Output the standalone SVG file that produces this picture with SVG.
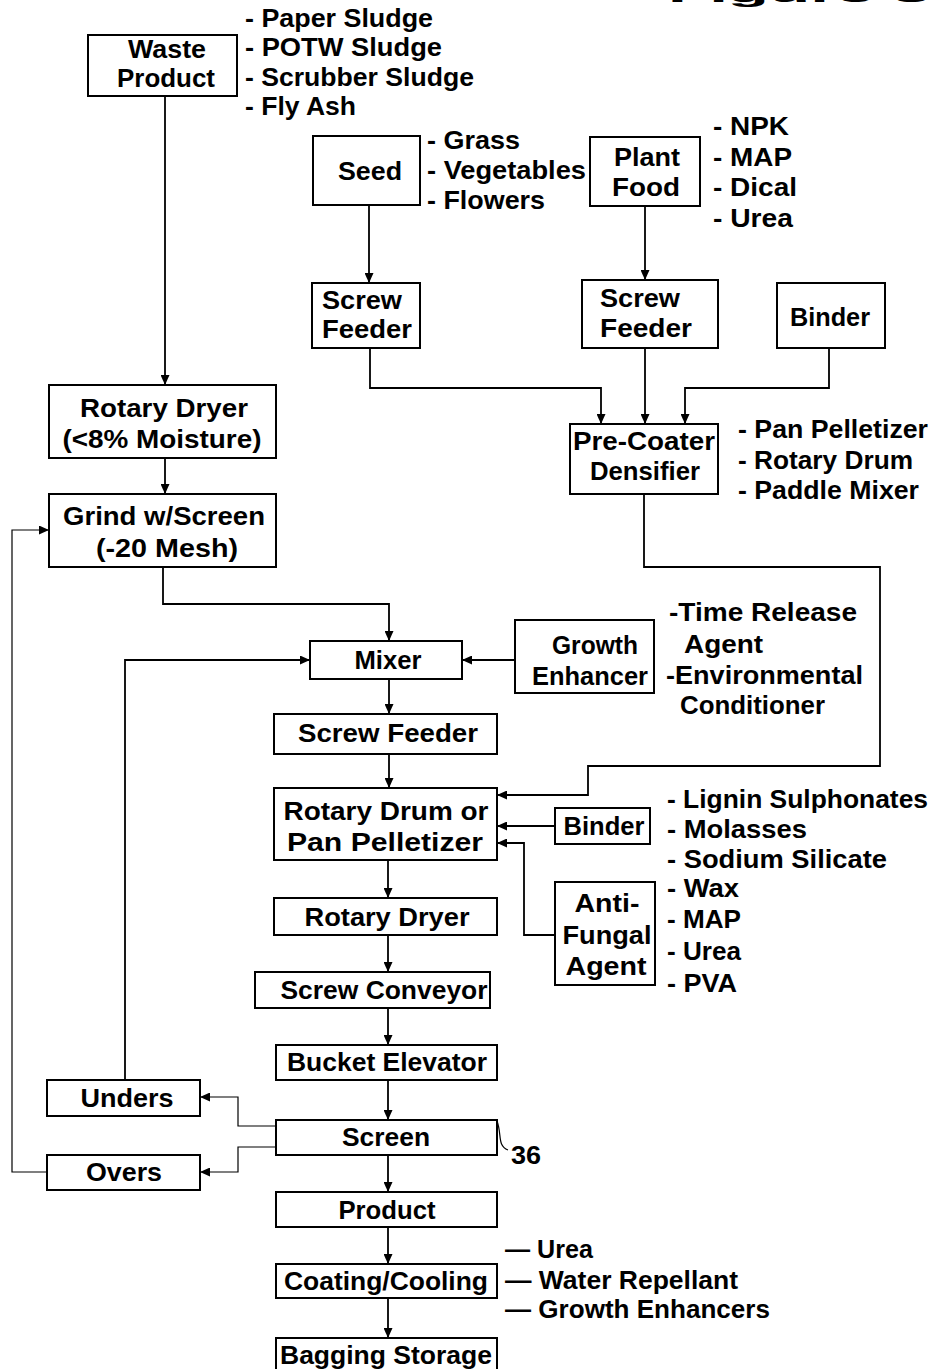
<svg xmlns="http://www.w3.org/2000/svg" width="935" height="1369" viewBox="0 0 935 1369">
<defs>
<marker id="ah" markerUnits="userSpaceOnUse" markerWidth="10" markerHeight="9" refX="10" refY="4.5" orient="auto">
<path d="M0,0 L10,4.5 L0,9 z" fill="#000"/>
</marker>
<style>
.b{fill:#fff;stroke:#000;stroke-width:2}
text{font-family:"Liberation Sans",Arial,sans-serif;font-weight:bold;font-size:25px;fill:#000}
.c{text-anchor:middle}
.ln{fill:none;stroke:#000;stroke-width:1.8}
.th{fill:none;stroke:#000;stroke-width:1.2}
</style>
</defs>
<rect width="935" height="1369" fill="#fff"/>
<text x="668" y="2" font-size="60" textLength="262" lengthAdjust="spacingAndGlyphs">Figure 3</text>

<g id="connectors">
<path class="ln" d="M165,96 V385" marker-end="url(#ah)"/>
<path class="ln" d="M165,458 V494" marker-end="url(#ah)"/>
<path class="ln" d="M163,567 V604 H389 V641" marker-end="url(#ah)"/>
<path class="ln" d="M369,205 V283" marker-end="url(#ah)"/>
<path class="ln" d="M645,206 V280" marker-end="url(#ah)"/>
<path class="ln" d="M370,348 V388 H601 V424" marker-end="url(#ah)"/>
<path class="ln" d="M645,348 V424" marker-end="url(#ah)"/>
<path class="ln" d="M829,348 V388 H685 V424" marker-end="url(#ah)"/>
<path class="ln" d="M644,494 V567 H880 V766 H588 V795 H497" marker-end="url(#ah)"/>
<path class="ln" d="M515,660 H462" marker-end="url(#ah)"/>
<path class="ln" d="M389,679 V714" marker-end="url(#ah)"/>
<path class="ln" d="M389,754 V788" marker-end="url(#ah)"/>
<path class="ln" d="M555,826 H497" marker-end="url(#ah)"/>
<path class="ln" d="M555,935 H524 V843 H497" marker-end="url(#ah)"/>
<path class="ln" d="M388,860 V898" marker-end="url(#ah)"/>
<path class="ln" d="M388,935 V972" marker-end="url(#ah)"/>
<path class="ln" d="M388,1008 V1045" marker-end="url(#ah)"/>
<path class="ln" d="M388,1080 V1120" marker-end="url(#ah)"/>
<path class="th" d="M276,1126 H238 V1097 H200" marker-end="url(#ah)"/>
<path class="th" d="M276,1147 H238 V1172 H200" marker-end="url(#ah)"/>
<path class="ln" d="M125,1080 V660 H310" marker-end="url(#ah)"/>
<path class="th" d="M47,1172 H12 V530 H49" marker-end="url(#ah)"/>
<path class="ln" d="M388,1155 V1192" marker-end="url(#ah)"/>
<path class="ln" d="M388,1227 V1264" marker-end="url(#ah)"/>
<path class="ln" d="M388,1298 V1338" marker-end="url(#ah)"/>
<path class="th" d="M497,1121 C502,1134 497,1146 508,1150"/>
</g>

<g id="waste">
<rect class="b" x="88" y="35" width="149" height="61"/>
<text class="c" x="167" y="58" textLength="78" lengthAdjust="spacingAndGlyphs">Waste</text>
<text class="c" x="166" y="87" textLength="98" lengthAdjust="spacingAndGlyphs">Product</text>
<text x="245" y="27" textLength="188" lengthAdjust="spacingAndGlyphs">- Paper Sludge</text>
<text x="245" y="56" textLength="197" lengthAdjust="spacingAndGlyphs">- POTW Sludge</text>
<text x="245" y="86" textLength="229" lengthAdjust="spacingAndGlyphs">- Scrubber Sludge</text>
<text x="245" y="115" textLength="111" lengthAdjust="spacingAndGlyphs">- Fly Ash</text>
</g>

<g id="seed">
<rect class="b" x="313" y="136" width="107" height="69"/>
<text class="c" x="370" y="180" textLength="64" lengthAdjust="spacingAndGlyphs">Seed</text>
<text x="427" y="149" textLength="93" lengthAdjust="spacingAndGlyphs">- Grass</text>
<text x="427" y="179" textLength="159" lengthAdjust="spacingAndGlyphs">- Vegetables</text>
<text x="427" y="209" textLength="118" lengthAdjust="spacingAndGlyphs">- Flowers</text>
</g>

<g id="plantfood">
<rect class="b" x="590" y="137" width="110" height="69"/>
<text class="c" x="647" y="166" textLength="66" lengthAdjust="spacingAndGlyphs">Plant</text>
<text class="c" x="646" y="196" textLength="68" lengthAdjust="spacingAndGlyphs">Food</text>
<text x="713" y="135" textLength="76" lengthAdjust="spacingAndGlyphs">- NPK</text>
<text x="713" y="166" textLength="79" lengthAdjust="spacingAndGlyphs">- MAP</text>
<text x="713" y="196" textLength="84" lengthAdjust="spacingAndGlyphs">- Dical</text>
<text x="713" y="227" textLength="80" lengthAdjust="spacingAndGlyphs">- Urea</text>
</g>

<g id="screwfeeder1">
<rect class="b" x="312" y="283" width="108" height="65"/>
<text class="c" x="362" y="309" textLength="80" lengthAdjust="spacingAndGlyphs">Screw</text>
<text class="c" x="367" y="338" textLength="90" lengthAdjust="spacingAndGlyphs">Feeder</text>
</g>

<g id="screwfeeder2">
<rect class="b" x="582" y="280" width="136" height="68"/>
<text class="c" x="640" y="307" textLength="80" lengthAdjust="spacingAndGlyphs">Screw</text>
<text class="c" x="646" y="337" textLength="92" lengthAdjust="spacingAndGlyphs">Feeder</text>
</g>

<g id="binder1">
<rect class="b" x="777" y="283" width="108" height="65"/>
<text class="c" x="830" y="326" textLength="80" lengthAdjust="spacingAndGlyphs">Binder</text>
</g>

<g id="precoater">
<rect class="b" x="570" y="424" width="148" height="70"/>
<text class="c" x="644" y="450" textLength="142" lengthAdjust="spacingAndGlyphs">Pre-Coater</text>
<text class="c" x="645" y="480" textLength="110" lengthAdjust="spacingAndGlyphs">Densifier</text>
<text x="738" y="438" textLength="190" lengthAdjust="spacingAndGlyphs">- Pan Pelletizer</text>
<text x="738" y="469" textLength="175" lengthAdjust="spacingAndGlyphs">- Rotary Drum</text>
<text x="738" y="499" textLength="181" lengthAdjust="spacingAndGlyphs">- Paddle Mixer</text>
</g>

<g id="rotarydryer1">
<rect class="b" x="49" y="385" width="227" height="73"/>
<text class="c" x="164" y="417" textLength="168" lengthAdjust="spacingAndGlyphs">Rotary Dryer</text>
<text class="c" x="162" y="448" textLength="199" lengthAdjust="spacingAndGlyphs">(&lt;8% Moisture)</text>
</g>

<g id="grind">
<rect class="b" x="49" y="494" width="227" height="73"/>
<text class="c" x="164" y="525" textLength="202" lengthAdjust="spacingAndGlyphs">Grind w/Screen</text>
<text class="c" x="167" y="557" textLength="142" lengthAdjust="spacingAndGlyphs">(-20 Mesh)</text>
</g>

<g id="mixer">
<rect class="b" x="310" y="641" width="152" height="38"/>
<text class="c" x="388" y="669" textLength="67" lengthAdjust="spacingAndGlyphs">Mixer</text>
</g>

<g id="growth">
<rect class="b" x="515" y="620" width="139" height="73"/>
<text class="c" x="595" y="654" textLength="86" lengthAdjust="spacingAndGlyphs">Growth</text>
<text class="c" x="590" y="685" textLength="116" lengthAdjust="spacingAndGlyphs">Enhancer</text>
<text x="669" y="621" textLength="188" lengthAdjust="spacingAndGlyphs">-Time Release</text>
<text x="684" y="653" textLength="79" lengthAdjust="spacingAndGlyphs">Agent</text>
<text x="666" y="684" textLength="197" lengthAdjust="spacingAndGlyphs">-Environmental</text>
<text x="680" y="714" textLength="145" lengthAdjust="spacingAndGlyphs">Conditioner</text>
</g>

<g id="screwfeeder3">
<rect class="b" x="274" y="714" width="223" height="40"/>
<text class="c" x="388" y="742" textLength="180" lengthAdjust="spacingAndGlyphs">Screw Feeder</text>
</g>

<g id="pelletizer">
<rect class="b" x="274" y="788" width="223" height="72"/>
<text class="c" x="386" y="820" textLength="205" lengthAdjust="spacingAndGlyphs">Rotary Drum or</text>
<text class="c" x="385" y="851" textLength="196" lengthAdjust="spacingAndGlyphs">Pan Pelletizer</text>
</g>

<g id="binder2">
<rect class="b" x="555" y="808" width="95" height="36"/>
<text class="c" x="604" y="835" textLength="81" lengthAdjust="spacingAndGlyphs">Binder</text>
<text x="667" y="808" textLength="261" lengthAdjust="spacingAndGlyphs">- Lignin Sulphonates</text>
<text x="667" y="838" textLength="140" lengthAdjust="spacingAndGlyphs">- Molasses</text>
<text x="667" y="868" textLength="220" lengthAdjust="spacingAndGlyphs">- Sodium Silicate</text>
</g>

<g id="antifungal">
<rect class="b" x="555" y="882" width="100" height="103"/>
<text class="c" x="607" y="912" textLength="65" lengthAdjust="spacingAndGlyphs">Anti-</text>
<text class="c" x="607" y="944" textLength="89" lengthAdjust="spacingAndGlyphs">Fungal</text>
<text class="c" x="606" y="975" textLength="81" lengthAdjust="spacingAndGlyphs">Agent</text>
<text x="667" y="897" textLength="72" lengthAdjust="spacingAndGlyphs">- Wax</text>
<text x="667" y="928" textLength="74" lengthAdjust="spacingAndGlyphs">- MAP</text>
<text x="667" y="960" textLength="74" lengthAdjust="spacingAndGlyphs">- Urea</text>
<text x="667" y="992" textLength="70" lengthAdjust="spacingAndGlyphs">- PVA</text>
</g>

<g id="rotarydryer2">
<rect class="b" x="274" y="898" width="223" height="37"/>
<text class="c" x="387" y="926" textLength="165" lengthAdjust="spacingAndGlyphs">Rotary Dryer</text>
</g>

<g id="screwconveyor">
<rect class="b" x="255" y="972" width="235" height="36"/>
<text class="c" x="384" y="999" textLength="207" lengthAdjust="spacingAndGlyphs">Screw Conveyor</text>
</g>

<g id="bucket">
<rect class="b" x="276" y="1045" width="221" height="35"/>
<text class="c" x="387" y="1071" textLength="200" lengthAdjust="spacingAndGlyphs">Bucket Elevator</text>
</g>

<g id="screen">
<rect class="b" x="276" y="1120" width="221" height="35"/>
<text class="c" x="386" y="1146" textLength="88" lengthAdjust="spacingAndGlyphs">Screen</text>
<text x="511" y="1164" textLength="30" lengthAdjust="spacingAndGlyphs">36</text>
</g>

<g id="unders">
<rect class="b" x="47" y="1080" width="153" height="36"/>
<text class="c" x="127" y="1107" textLength="93" lengthAdjust="spacingAndGlyphs">Unders</text>
</g>

<g id="overs">
<rect class="b" x="47" y="1155" width="153" height="35"/>
<text class="c" x="124" y="1181" textLength="76" lengthAdjust="spacingAndGlyphs">Overs</text>
</g>

<g id="product">
<rect class="b" x="276" y="1192" width="221" height="35"/>
<text class="c" x="387" y="1219" textLength="97" lengthAdjust="spacingAndGlyphs">Product</text>
</g>

<g id="coating">
<rect class="b" x="276" y="1264" width="221" height="34"/>
<text class="c" x="386" y="1290" textLength="204" lengthAdjust="spacingAndGlyphs">Coating/Cooling</text>
<text x="505" y="1258" textLength="88" lengthAdjust="spacingAndGlyphs">— Urea</text>
<text x="505" y="1289" textLength="233" lengthAdjust="spacingAndGlyphs">— Water Repellant</text>
<text x="505" y="1318" textLength="265" lengthAdjust="spacingAndGlyphs">— Growth Enhancers</text>
</g>

<g id="bagging">
<rect class="b" x="276" y="1338" width="221" height="34"/>
<text class="c" x="386" y="1364" textLength="212" lengthAdjust="spacingAndGlyphs">Bagging Storage</text>
</g>
</svg>
